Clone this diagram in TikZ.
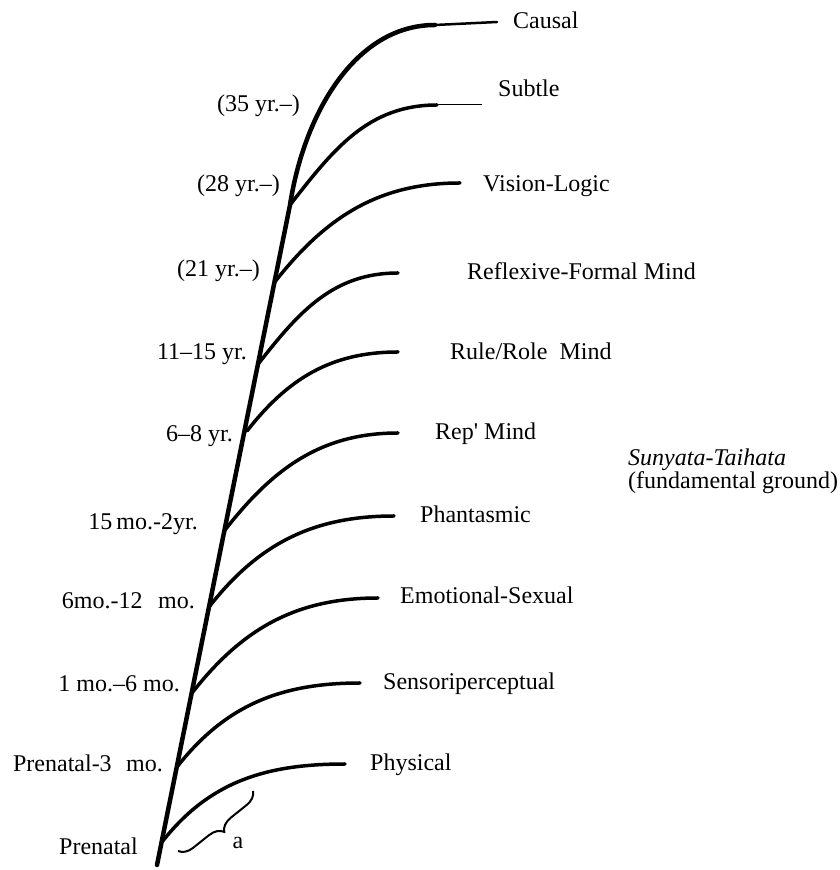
\documentclass[tikz,border=0pt]{standalone}
\usepackage{fontspec}
\setmainfont{Liberation Serif}
\usepackage{tikz}
\usetikzlibrary{decorations.pathreplacing}

\begin{document}
\begin{tikzpicture}[x=1pt,y=1pt,
    every node/.style={font=\fontsize{24}{28}\selectfont, inner sep=0pt, text height=17pt, text depth=4pt},
    branch/.style={line width=3.5pt, line cap=round},
    stage/.style={anchor=west},
    age/.style={anchor=east}]
  \useasboundingbox (0,0) rectangle (840,870);

  %stem
  \coordinate (base) at (157,5);
  \coordinate (fork) at (290,665);
  \coordinate (bend) at (435,845);
  \coordinate (top) at (497,848);
  \draw[line width=4.5pt, line cap=round] (base) -- (fork) .. controls (304,756) and (355,845) .. (bend);
  \draw[line width=2.5pt, line cap=round] (bend) -- (top);

  %branches
  \coordinate (s1) at (162,28);  \coordinate (e1) at (345,106);
  \coordinate (s2) at (177,103); \coordinate (e2) at (360,187);
  \coordinate (s3) at (192,177); \coordinate (e3) at (378,272);
  \coordinate (s4) at (209,263); \coordinate (e4) at (394,354);
  \coordinate (s5) at (225,340); \coordinate (e5) at (398,437);
  \coordinate (s6) at (247,439); \coordinate (e6) at (398,518);
  \coordinate (s7) at (259,507); \coordinate (e7) at (398,597);
  \coordinate (s8) at (274,587); \coordinate (e8) at (460,687);
  \coordinate (e9) at (437,765); \coordinate (tail) at (482,765);
  \foreach \i in {1,...,8}
    \draw[branch] (s\i) to[out=52,in=180] (e\i);
  \draw[branch] (fork) to[out=52,in=180] (e9);
  \draw[line width=1pt] (e9) -- (tail);

  %brace
  \draw[decorate, decoration={brace, amplitude=14pt}, line width=2pt] (253,79) -- (178,19);
  \node (a) at (238,28) {a};

  %stages
  \node[stage] (causal) at (513,848) {Causal};
  \node[stage] (subtle) at (498,780) {Subtle};
  \node[stage] (vision) at (483,685) {Vision-Logic};
  \node[stage] (reflexive) at (467,597) {Reflexive-Formal Mind};
  \node[stage] (rule) at (450,517) {Rule/Role\ \ Mind};
  \node[stage] (rep) at (435,437) {Rep\textquotesingle\ Mind};
  \node[stage] (phantasmic) at (420,354) {Phantasmic};
  \node[stage] (emotional) at (400,273) {Emotional-Sexual};
  \node[stage] (sensori) at (383,187) {Sensoriperceptual};
  \node[stage] (physical) at (370,106) {Physical};

  %ages
  \node[age] (age35) at (300,765) {(35 yr.--)};
  \node[age] (age28) at (280,685) {(28 yr.--)};
  \node[age] (age21) at (260,600) {(21 yr.--)};
  \node[age] (age11) at (247,517) {11--15 yr.};
  \node[age] (age6) at (233,435) {6--8 yr.};
  \node[age] (age15mo) at (198,347) {15\,mo.-2yr.};
  \node[age] (age6mo) at (195,268) {6mo.-12\hspace{0.65em}mo.};
  \node[age] (age1mo) at (180,185) {1 mo.--6 mo.};
  \node[age] (age3mo) at (163,105) {Prenatal-3\hspace{0.6em}mo.};
  \node[age] (prenatal) at (138,22) {Prenatal};

  %ground
  \node[anchor=west, align=left, text height=, text depth=, font=\fontsize{24}{20}\selectfont] (ground) at (628,399)
    {\textit{Sunyata-Taihata}\\(fundamental ground)};
\end{tikzpicture}
\end{document}
